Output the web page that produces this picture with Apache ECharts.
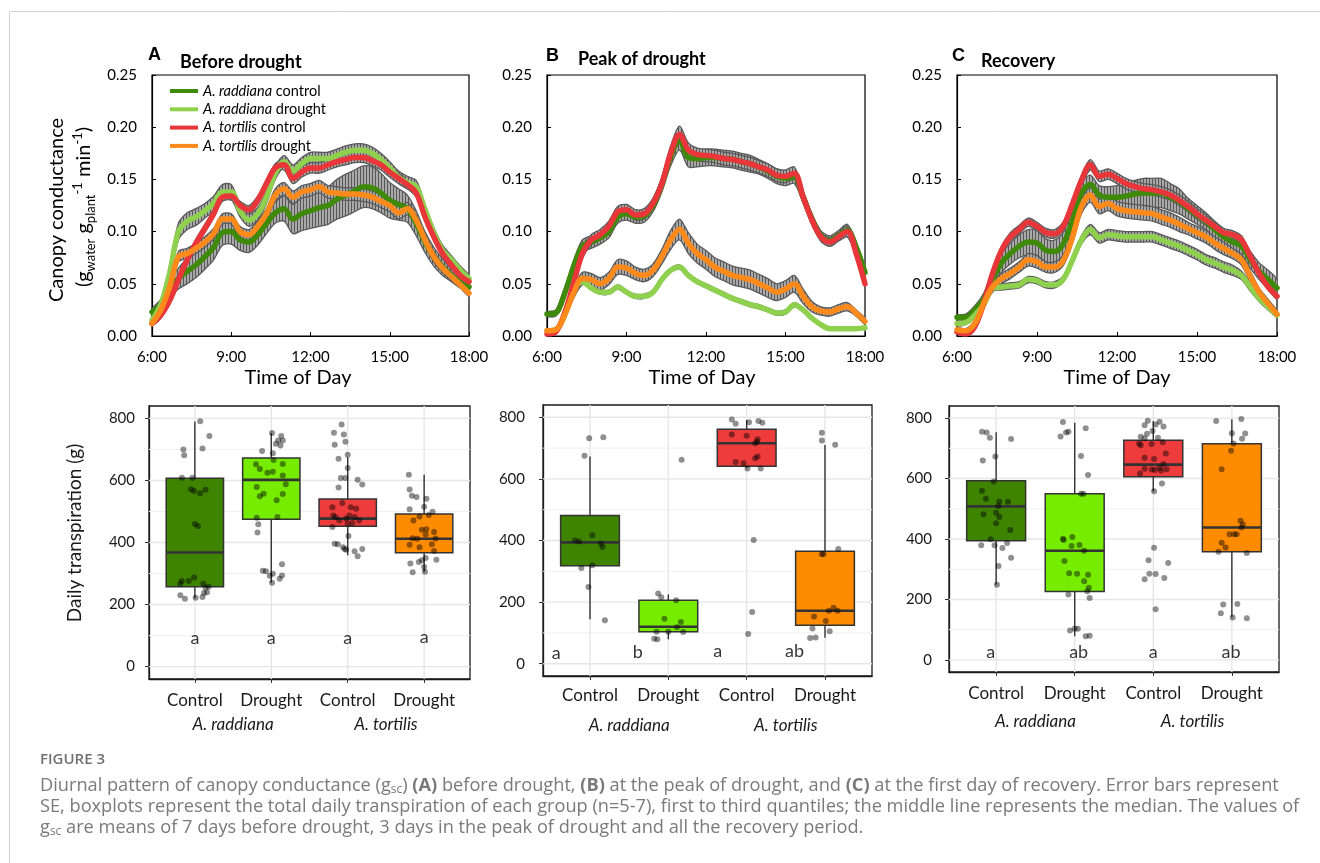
<!DOCTYPE html>
<html><head><meta charset="utf-8">
<script src="https://cdn.jsdelivr.net/npm/echarts@6/dist/echarts.min.js"></script>
<style>html,body{margin:0;padding:0;background:#fff}#c{width:1320px;height:863px}</style>
</head><body><div id="c"></div>
<script>
// ---------------- DATA: top panels (canopy conductance) ----------------
const timeLabels = ['6:00','6:20','6:40','7:00','7:20','7:40','8:00','8:20','8:40','9:00','9:20','9:40','10:00','10:20','10:40','11:00','11:20','11:40','12:00','12:20','12:40','13:00','13:20','13:40','14:00','14:20','14:40','15:00','15:20','15:40','16:00','16:20','16:40','17:00','17:20','17:40','18:00'];
const xTickHours = [6, 9, 12, 15, 18];
const seriesNames = ['A. raddiana control', 'A. raddiana drought', 'A. tortilis control', 'A. tortilis drought'];
const panelTitles = ['Before drought', 'Peak of drought', 'Recovery'];
const panelLetters = ['A', 'B', 'C'];

// Panel A - before drought
const A_rc = [0.023,0.030,0.045,0.055,0.062,0.068,0.076,0.085,0.099,0.100,0.092,0.090,0.097,0.108,0.118,0.122,0.112,0.117,0.120,0.123,0.125,0.131,0.135,0.139,0.143,0.142,0.137,0.130,0.126,0.122,0.108,0.090,0.076,0.066,0.058,0.051,0.047];
const A_rd = [0.015,0.030,0.060,0.100,0.110,0.114,0.120,0.127,0.138,0.138,0.120,0.111,0.117,0.133,0.156,0.167,0.158,0.165,0.170,0.170,0.170,0.173,0.176,0.178,0.178,0.175,0.169,0.161,0.152,0.147,0.143,0.121,0.099,0.082,0.073,0.063,0.055];
const A_tc = [0.012,0.020,0.034,0.054,0.073,0.089,0.103,0.117,0.133,0.134,0.125,0.121,0.130,0.146,0.161,0.164,0.151,0.157,0.161,0.161,0.164,0.167,0.169,0.171,0.171,0.168,0.164,0.157,0.151,0.145,0.137,0.114,0.095,0.079,0.068,0.058,0.052];
const A_td = [0.012,0.025,0.047,0.076,0.079,0.084,0.090,0.098,0.112,0.112,0.100,0.097,0.105,0.117,0.135,0.141,0.133,0.138,0.140,0.143,0.138,0.137,0.136,0.136,0.135,0.133,0.129,0.125,0.118,0.122,0.111,0.092,0.076,0.065,0.057,0.049,0.041];
const A_rc_se = [0.003,0.005,0.008,0.010,0.012,0.012,0.012,0.012,0.012,0.012,0.010,0.010,0.010,0.010,0.010,0.012,0.014,0.016,0.017,0.018,0.018,0.019,0.020,0.020,0.020,0.020,0.019,0.017,0.015,0.013,0.012,0.010,0.009,0.008,0.006,0.005,0.004];
const A_rd_se = [0.003,0.005,0.007,0.008,0.008,0.008,0.007,0.007,0.007,0.007,0.006,0.006,0.006,0.006,0.006,0.006,0.006,0.006,0.006,0.006,0.006,0.006,0.006,0.006,0.006,0.006,0.006,0.006,0.006,0.006,0.006,0.005,0.005,0.005,0.004,0.004,0.003];
const A_tc_se = [0.002,0.003,0.004,0.004,0.004,0.004,0.004,0.004,0.004,0.004,0.004,0.004,0.004,0.004,0.004,0.005,0.005,0.005,0.005,0.005,0.005,0.005,0.005,0.005,0.005,0.005,0.005,0.005,0.005,0.004,0.004,0.004,0.003,0.003,0.003,0.003,0.002];
const A_td_se = [0.002,0.003,0.004,0.005,0.005,0.005,0.005,0.005,0.005,0.005,0.005,0.005,0.005,0.005,0.006,0.006,0.006,0.006,0.006,0.006,0.006,0.006,0.006,0.006,0.006,0.006,0.006,0.006,0.006,0.006,0.005,0.005,0.005,0.004,0.004,0.003,0.003];

// Panel B - peak of drought
const B_rc = [0.021,0.022,0.041,0.066,0.086,0.090,0.094,0.100,0.114,0.117,0.114,0.115,0.125,0.145,0.172,0.188,0.171,0.170,0.171,0.171,0.170,0.169,0.167,0.165,0.162,0.158,0.153,0.151,0.153,0.133,0.112,0.096,0.091,0.096,0.101,0.085,0.061];
const B_rd = [0.005,0.006,0.020,0.045,0.052,0.046,0.042,0.042,0.047,0.042,0.038,0.038,0.042,0.054,0.063,0.066,0.058,0.052,0.048,0.044,0.040,0.036,0.033,0.030,0.028,0.025,0.022,0.023,0.030,0.025,0.017,0.011,0.007,0.007,0.007,0.007,0.008];
const B_tc = [0.002,0.004,0.022,0.050,0.079,0.092,0.097,0.105,0.119,0.121,0.116,0.117,0.127,0.146,0.175,0.193,0.178,0.174,0.173,0.172,0.170,0.169,0.167,0.165,0.162,0.159,0.154,0.153,0.156,0.133,0.111,0.095,0.090,0.095,0.100,0.079,0.050];
const B_td = [0.005,0.006,0.020,0.041,0.055,0.054,0.050,0.055,0.066,0.065,0.060,0.058,0.063,0.076,0.092,0.102,0.089,0.079,0.073,0.066,0.062,0.058,0.056,0.054,0.050,0.046,0.042,0.045,0.050,0.038,0.028,0.024,0.023,0.026,0.028,0.022,0.014];
const B_rc_se = [0.002,0.003,0.005,0.006,0.006,0.006,0.006,0.006,0.006,0.006,0.006,0.006,0.006,0.007,0.009,0.010,0.009,0.008,0.008,0.008,0.008,0.008,0.008,0.008,0.007,0.007,0.007,0.007,0.007,0.006,0.005,0.005,0.005,0.005,0.006,0.005,0.004];
const B_rd_se = [0.001,0.001,0.002,0.002,0.002,0.002,0.002,0.002,0.002,0.002,0.002,0.002,0.002,0.002,0.002,0.002,0.002,0.002,0.002,0.002,0.002,0.002,0.002,0.002,0.002,0.002,0.002,0.002,0.002,0.002,0.002,0.001,0.001,0.001,0.001,0.001,0.001];
const B_tc_se = [0.002,0.002,0.004,0.005,0.005,0.005,0.005,0.005,0.005,0.005,0.005,0.005,0.005,0.006,0.007,0.008,0.007,0.006,0.006,0.006,0.006,0.006,0.006,0.006,0.006,0.006,0.006,0.006,0.006,0.005,0.005,0.004,0.004,0.004,0.005,0.004,0.003];
const B_td_se = [0.001,0.002,0.003,0.005,0.006,0.006,0.006,0.006,0.007,0.007,0.006,0.006,0.006,0.007,0.009,0.010,0.010,0.009,0.009,0.009,0.009,0.009,0.009,0.009,0.009,0.009,0.008,0.008,0.008,0.007,0.005,0.004,0.004,0.004,0.004,0.003,0.003];

// Panel C - recovery
const C_rc = [0.018,0.018,0.025,0.035,0.054,0.070,0.079,0.086,0.090,0.089,0.082,0.081,0.089,0.111,0.137,0.145,0.135,0.133,0.133,0.134,0.136,0.137,0.137,0.137,0.133,0.129,0.122,0.116,0.110,0.102,0.095,0.090,0.086,0.073,0.062,0.054,0.046];
const C_rd = [0.012,0.013,0.020,0.030,0.046,0.047,0.048,0.049,0.054,0.053,0.049,0.049,0.055,0.073,0.092,0.102,0.094,0.097,0.096,0.095,0.095,0.095,0.095,0.092,0.089,0.086,0.082,0.078,0.073,0.070,0.066,0.063,0.058,0.047,0.036,0.028,0.020];
const C_tc = [0.004,0.002,0.009,0.031,0.060,0.082,0.095,0.102,0.109,0.105,0.099,0.098,0.106,0.127,0.149,0.164,0.153,0.155,0.151,0.146,0.143,0.141,0.140,0.138,0.135,0.130,0.124,0.117,0.111,0.105,0.099,0.097,0.092,0.076,0.060,0.047,0.038];
const C_td = [0.006,0.005,0.012,0.031,0.047,0.055,0.060,0.066,0.073,0.071,0.066,0.066,0.073,0.095,0.124,0.135,0.124,0.127,0.122,0.120,0.119,0.118,0.117,0.114,0.111,0.107,0.103,0.099,0.095,0.089,0.084,0.079,0.073,0.057,0.042,0.031,0.021];
const C_rc_se = [0.002,0.003,0.004,0.006,0.008,0.009,0.010,0.011,0.012,0.012,0.011,0.011,0.011,0.010,0.010,0.009,0.009,0.010,0.011,0.012,0.013,0.014,0.014,0.014,0.013,0.012,0.010,0.009,0.008,0.008,0.008,0.008,0.008,0.008,0.008,0.009,0.008];
const C_rd_se = [0.002,0.002,0.003,0.003,0.003,0.003,0.003,0.003,0.003,0.003,0.003,0.003,0.003,0.004,0.004,0.005,0.005,0.005,0.005,0.005,0.005,0.005,0.005,0.005,0.005,0.005,0.005,0.005,0.005,0.005,0.005,0.005,0.004,0.004,0.003,0.003,0.002];
const C_tc_se = [0.002,0.002,0.003,0.004,0.004,0.004,0.004,0.004,0.004,0.004,0.004,0.004,0.004,0.004,0.005,0.005,0.005,0.005,0.005,0.005,0.005,0.005,0.005,0.005,0.005,0.005,0.005,0.005,0.005,0.004,0.004,0.004,0.004,0.004,0.004,0.003,0.003];
const C_td_se = [0.002,0.002,0.003,0.004,0.005,0.005,0.005,0.005,0.006,0.006,0.005,0.005,0.005,0.006,0.007,0.007,0.007,0.007,0.007,0.007,0.007,0.007,0.007,0.007,0.007,0.007,0.006,0.006,0.006,0.006,0.006,0.005,0.005,0.005,0.004,0.004,0.003];

// ---------------- DATA: bottom panels (daily transpiration, g) ----------------
const groupLabels = ['Control', 'Drought', 'Control', 'Drought'];
const speciesLabels = ['A. raddiana', 'A. tortilis'];
const yTicksBottom = [0, 200, 400, 600, 800];
const yMinorBottom = [100, 300, 500, 700];
// box stats: [lower whisker, Q1, median, Q3, upper whisker]
const boxD = [[220,257,368,607,790],[270,475,602,672,753],[359,452,477,540,675],[305,367,412,492,618]];
const boxE = [[144,318,394,481,673],[79,104,120,206,225],[635,641,716,761,791],[84,125,172,365,710]];
const boxF = [[249,394,508,593,753],[78,226,361,550,785],[557,606,646,727,790],[141,358,438,715,796]];
// individual observations: [jitter, value]
const pointsD = [
 [[0.07,791],[0.19,743],[-0.15,700],[0.10,703],[-0.14,681],[-0.17,609],[-0.03,609],[-0.05,572],[-0.01,566],[0.07,559],[0.14,570],[0.0,460],[0.04,453],[-0.01,287],[-0.17,276],[-0.08,276],[0.11,267],[-0.19,267],[0.14,254],[0.18,257],[-0.19,230],[-0.13,219],[0.01,222],[0.10,224],[0.16,240],[0.12,237]],
 [[0.01,753],[0.13,743],[0.09,729],[0.15,729],[0.06,718],[0.12,713],[-0.12,695],[0.02,688],[-0.20,652],[0.03,666],[0.15,653],[-0.15,637],[-0.05,625],[0.02,628],[0.15,616],[0.19,588],[-0.19,579],[-0.15,549],[-0.10,557],[0.15,556],[0.07,536],[-0.19,480],[0.08,482],[-0.17,459],[-0.18,432],[-0.11,309],[-0.07,307],[0.02,299],[0.14,330],[0.14,294],[0.11,283],[0.01,270],[-0.02,293]],
 [[-0.08,780],[-0.18,754],[-0.05,748],[-0.17,715],[-0.03,725],[-0.12,670],[0.0,683],[0.0,640],[-0.09,608],[-0.03,608],[0.13,602],[0.19,587],[-0.12,577],[-0.07,527],[-0.20,514],[0.04,514],[0.11,509],[-0.19,487],[-0.16,482],[-0.11,471],[-0.02,477],[0.02,487],[0.09,482],[0.15,471],[-0.20,450],[0.0,461],[0.06,463],[0.01,421],[-0.17,396],[-0.13,394],[-0.06,385],[-0.02,377],[-0.04,379],[0.09,372],[0.19,379],[0.13,356]],
 [[-0.20,618],[-0.19,571],[-0.16,551],[-0.10,547],[0.03,541],[-0.19,507],[0.0,515],[0.11,499],[-0.06,484],[0.06,489],[-0.14,471],[-0.03,441],[0.03,443],[0.13,434],[0.02,426],[-0.15,414],[-0.09,412],[0.15,413],[-0.19,393],[-0.06,385],[0.10,394],[0.13,373],[0.02,350],[-0.18,332],[-0.07,337],[-0.03,343],[0.16,344],[0.0,321],[-0.15,304],[0.01,306]]
];
const pointsE = [
 [[-0.01,732],[0.17,735],[-0.07,675],[-0.19,400],[-0.14,397],[0.03,417],[0.14,390],[0.16,379],[-0.11,311],[0.03,320],[-0.02,249],[0.19,141]],
 [[0.17,662],[-0.13,228],[-0.09,216],[0.10,206],[-0.05,146],[0.16,135],[0.11,118],[-0.15,104],[0.0,104],[0.19,103],[-0.18,81],[-0.14,79]],
 [[-0.19,793],[-0.14,779],[0.03,784],[0.15,788],[0.20,782],[-0.19,744],[0.0,740],[0.14,729],[0.13,721],[0.11,716],[0.14,673],[0.11,667],[-0.14,655],[-0.04,651],[0.01,634],[0.18,634],[0.09,402],[0.07,168],[0.02,96]],
 [[-0.04,750],[-0.04,725],[0.13,711],[0.17,372],[-0.04,355],[-0.02,356],[0.11,182],[0.05,172],[0.16,172],[-0.14,153],[0.01,139],[-0.16,114],[0.06,105],[-0.19,83],[-0.12,85]]
];
const pointsF = [
 [[-0.18,755],[-0.12,752],[-0.08,735],[0.19,731],[-0.17,660],[-0.01,673],[-0.03,590],[-0.18,560],[-0.13,533],[0.04,524],[0.15,523],[0.03,509],[-0.16,482],[0.0,487],[0.04,473],[0.0,452],[0.18,430],[-0.07,399],[-0.19,379],[-0.02,379],[0.08,370],[0.14,387],[0.03,311],[0.19,338],[0.01,249]],
 [[-0.15,787],[-0.18,739],[-0.11,752],[-0.08,755],[0.14,766],[0.08,675],[0.17,612],[0.08,550],[0.11,550],[-0.15,401],[-0.14,397],[-0.03,407],[-0.04,377],[0.06,380],[0.12,361],[-0.13,327],[-0.07,287],[0.03,285],[0.17,282],[0.12,260],[0.18,239],[0.16,227],[-0.08,216],[0.19,205],[-0.06,97],[0.0,103],[0.04,103],[0.14,78],[0.19,80]],
 [[-0.07,791],[0.08,788],[0.03,779],[-0.11,776],[0.13,772],[-0.01,757],[-0.08,748],[-0.16,738],[0.06,735],[-0.11,733],[-0.18,716],[-0.02,714],[0.12,720],[-0.16,710],[-0.11,669],[0.01,665],[0.16,683],[0.13,648],[-0.02,630],[-0.11,632],[-0.17,617],[0.08,636],[0.17,631],[0.10,627],[0.02,628],[0.11,584],[0.01,558],[0.01,371],[-0.06,330],[0.19,321],[-0.05,285],[0.03,284],[-0.11,267],[0.14,271],[0.03,168]],
 [[-0.20,790],[0.12,797],[0.0,750],[0.17,749],[0.13,732],[0.02,716],[-0.01,692],[-0.13,631],[0.11,460],[0.14,448],[0.12,438],[-0.03,416],[0.03,416],[0.06,416],[-0.13,388],[-0.08,372],[-0.17,358],[0.19,354],[-0.11,183],[0.07,185],[-0.14,154],[0.01,140],[0.19,138]]
];
// significance letters: text, x (category index + shift), y (g)
const lettersD = ['a','a','a','a'];  const letterXD = [0, 1, 2, 3];                  const letterYD = [90, 90, 90, 96];
const lettersE = ['a','b','a','ab']; const letterXE = [-0.43, 0.61, 1.63, 2.61];     const letterYE = [34, 36, 40, 42];
const lettersF = ['a','ab','a','ab']; const letterXF = [-0.07, 1.05, 2.0, 2.99];     const letterYF = [24, 24, 24, 24];

// ---------------- styling ----------------
const lineColors = ['#3f8a0a', '#8fd14f', '#e8363a', '#ff8a1c'];
const boxColors = ['#3e8400', '#76ec00', '#ee3b3b', '#ff8c00'];
const FONT = 'Lato';

const hours = timeLabels.map(s => { const p = s.split(':').map(Number); return p[0] + p[1] / 60; });
const topPanels = [
  { means: [A_rc, A_rd, A_tc, A_td], ses: [A_rc_se, A_rd_se, A_tc_se, A_td_se] },
  { means: [B_rc, B_rd, B_tc, B_td], ses: [B_rc_se, B_rd_se, B_tc_se, B_td_se] },
  { means: [C_rc, C_rd, C_tc, C_td], ses: [C_rc_se, C_rd_se, C_tc_se, C_td_se] }
];
const botPanels = [
  { box: boxD, pts: pointsD, letters: lettersD, lx: letterXD, ly: letterYD },
  { box: boxE, pts: pointsE, letters: lettersE, lx: letterXE, ly: letterYE },
  { box: boxF, pts: pointsF, letters: lettersF, lx: letterXF, ly: letterYF }
];

// hatch pattern for SE error bars
const pc = document.createElement('canvas'); pc.width = 3; pc.height = 4;
const pg = pc.getContext('2d');
pg.fillStyle = '#a9a9a9'; pg.fillRect(0, 0, 3, 4);
pg.fillStyle = '#575757'; pg.fillRect(0, 0, 1, 4);
const hatch = { image: pc, repeat: 'repeat' };

const topGrids = [
  { left: 152, top: 75, width: 317, height: 261 },
  { left: 547, top: 75, width: 318, height: 261 },
  { left: 957, top: 75, width: 320, height: 261 }
];
const botGrids = [
  { left: 149, top: 406, width: 321, height: 273 },
  { left: 543, top: 405, width: 329, height: 271 },
  { left: 949, top: 406, width: 330, height: 266 }
];
const botLabelMargin = [13, 11, 13];
const botSpeciesMargin = [37, 41, 41];
const botYMargin = [14, 18, 17];

const grid = [], xAxis = [], yAxis = [], series = [];
topGrids.forEach((g, p) => {
  grid.push(Object.assign({ show: true, borderColor: '#000', borderWidth: 1.2, backgroundColor: 'transparent' }, g));
  xAxis.push({
    type: 'value', gridIndex: p, min: 6, max: 18, interval: 3,
    axisLine: { onZero: false, lineStyle: { color: '#000', width: 1.2 } },
    axisTick: { inside: true, length: 4, lineStyle: { color: '#000' } },
    axisLabel: { margin: 14, fontSize: 15, fontFamily: FONT, color: '#000', formatter: v => v + ':00', showMinLabel: true, showMaxLabel: true },
    splitLine: { show: false }
  });
  yAxis.push({
    type: 'value', gridIndex: p, min: 0, max: 0.25, interval: 0.05,
    axisLine: { show: true, onZero: false, lineStyle: { color: '#000', width: 1.2 } },
    axisTick: { show: true, inside: true, length: 4, lineStyle: { color: '#000' } },
    axisLabel: { margin: 15, fontSize: 15, fontFamily: FONT, color: '#000', formatter: v => v.toFixed(2) },
    splitLine: { show: false }
  });
});
botGrids.forEach((g, p) => {
  grid.push(Object.assign({ show: true, borderColor: '#1a1a1a', borderWidth: 1.3, backgroundColor: 'transparent' }, g));
  xAxis.push({
    type: 'value', gridIndex: 3 + p, min: -0.6, max: 3.6,
    axisLine: { show: true, onZero: false, lineStyle: { color: '#1a1a1a', width: 1.3 } },
    axisTick: { show: true, length: 4, customValues: [0, 1, 2, 3], lineStyle: { color: '#333' } },
    axisLabel: { margin: botLabelMargin[p], fontSize: 17, fontFamily: FONT, color: '#1a1a1a', customValues: [0, 1, 2, 3], formatter: v => groupLabels[Math.round(v)] },
    splitLine: { show: false }
  });
  yAxis.push({
    type: 'value', gridIndex: 3 + p, min: -40, max: 840,
    axisLine: { show: true, onZero: false, lineStyle: { color: '#1a1a1a', width: 1.3 } },
    axisTick: { show: true, length: 4, customValues: yTicksBottom, lineStyle: { color: '#333' } },
    axisLabel: { margin: botYMargin[p], fontSize: 15, fontFamily: FONT, color: '#1a1a1a', customValues: yTicksBottom, formatter: v => String(v) },
    splitLine: { show: false }
  });
});
botGrids.forEach((g, p) => {
  xAxis.push({
    type: 'value', gridIndex: 3 + p, min: -0.6, max: 3.6, position: 'bottom', offset: 0,
    axisLine: { show: false, onZero: false }, axisTick: { show: false }, splitLine: { show: false },
    axisLabel: { margin: botSpeciesMargin[p], fontSize: 17, fontStyle: 'italic', fontFamily: FONT, color: '#1a1a1a', customValues: [0.5, 2.5], formatter: v => speciesLabels[v < 1.5 ? 0 : 1] }
  });
});

// top series: SE bands, then lines
topPanels.forEach((tp, p) => {
  tp.means.forEach((m, s) => {
    const se = tp.ses[s];
    series.push({
      type: 'custom', xAxisIndex: p, yAxisIndex: p, z: 2, silent: true, clip: true,
      data: [[hours[0], m[0]]],
      renderItem: (params, api) => {
        const up = [], lo = [];
        for (let i = 0; i < hours.length; i++) {
          up.push(api.coord([hours[i], m[i] + se[i]]));
          lo.push(api.coord([hours[i], m[i] - se[i]]));
        }
        return { type: 'polygon', shape: { points: up.concat(lo.reverse()), smooth: 0.3 },
                 style: { fill: hatch, stroke: '#5a5a5a', lineWidth: 1.3 } };
      }
    });
  });
});
topPanels.forEach((tp, p) => {
  tp.means.forEach((m, s) => {
    series.push({
      type: 'line', name: seriesNames[s], xAxisIndex: p, yAxisIndex: p, z: 3,
      data: hours.map((h, i) => [h, m[i]]), smooth: 0.35, showSymbol: false, symbol: 'none',
      lineStyle: { color: lineColors[s], width: 5.5, cap: 'round', join: 'round' },
      itemStyle: { color: lineColors[s] }
    });
  });
});

// bottom series
botPanels.forEach((bp, p) => {
  const ax = 3 + p;
  // gridlines (ggplot style)
  series.push({
    type: 'custom', xAxisIndex: ax, yAxisIndex: ax, z: 1, silent: true, clip: true,
    data: [[0, 0]],
    renderItem: (params, api) => {
      const cs = params.coordSys; const ch = [];
      yMinorBottom.forEach(v => { const y = api.coord([0, v])[1]; ch.push({ type: 'line', shape: { x1: cs.x, y1: y, x2: cs.x + cs.width, y2: y }, style: { stroke: '#f0f0f0', lineWidth: 1 } }); });
      yTicksBottom.forEach(v => { const y = api.coord([0, v])[1]; ch.push({ type: 'line', shape: { x1: cs.x, y1: y, x2: cs.x + cs.width, y2: y }, style: { stroke: '#e6e6e6', lineWidth: 1.4 } }); });
      [0, 1, 2, 3].forEach(v => { const x = api.coord([v, 0])[0]; ch.push({ type: 'line', shape: { x1: x, y1: cs.y, x2: x, y2: cs.y + cs.height }, style: { stroke: '#e6e6e6', lineWidth: 1.4 } }); });
      return { type: 'group', children: ch };
    }
  });
  series.push({
    type: 'custom', xAxisIndex: ax, yAxisIndex: ax, z: 2, silent: true, clip: true,
    encode: { x: 0, y: [1, 2, 3, 4, 5] },
    data: bp.box.map((b, i) => [i].concat(b)),
    renderItem: (params, api) => {
      const x = api.value(0);
      const pMin = api.coord([x, api.value(1)]), pQ1 = api.coord([x, api.value(2)]), pMed = api.coord([x, api.value(3)]);
      const pQ3 = api.coord([x, api.value(4)]), pMax = api.coord([x, api.value(5)]);
      const w = api.size([0.75, 0])[0];
      const cx = pMed[0];
      return { type: 'group', children: [
        { type: 'line', shape: { x1: cx, y1: pMin[1], x2: cx, y2: pMax[1] }, style: { stroke: '#333', lineWidth: 1.4 } },
        { type: 'rect', shape: { x: cx - w / 2, y: pQ3[1], width: w, height: pQ1[1] - pQ3[1] }, style: { fill: boxColors[params.dataIndex], stroke: '#333', lineWidth: 1.5 } },
        { type: 'line', shape: { x1: cx - w / 2, y1: pMed[1], x2: cx + w / 2, y2: pMed[1] }, style: { stroke: '#333', lineWidth: 2.6 } }
      ] };
    }
  });
  const pts = [];
  bp.pts.forEach((g, i) => g.forEach(d => pts.push([i + d[0], d[1]])));
  series.push({
    type: 'scatter', xAxisIndex: ax, yAxisIndex: ax, z: 3, silent: true,
    data: pts, symbolSize: 6, itemStyle: { color: 'rgba(0,0,0,0.55)' }
  });
  series.push({
    type: 'scatter', xAxisIndex: ax, yAxisIndex: ax, z: 4, silent: true, symbolSize: 0,
    data: bp.letters.map((t, i) => [bp.lx[i], bp.ly[i], t]),
    label: { show: true, position: 'inside', formatter: q => q.data[2], fontSize: 18, fontFamily: FONT, color: '#000' }
  });
});

// ---------------- texts ----------------
const graphic = [
  { type: 'line', shape: { x1: 9.5, y1: 11.5, x2: 1320, y2: 11.5 }, style: { stroke: '#d2d2d2', lineWidth: 1 } },
  { type: 'line', shape: { x1: 9.5, y1: 11.5, x2: 9.5, y2: 863 }, style: { stroke: '#d2d2d2', lineWidth: 1 } }
];
const letterPos = [[148, 55], [546, 56], [952, 56]];
const titlePos = [[180, 62], [578, 59], [981, 61]];
panelLetters.forEach((L, p) => {
  graphic.push({ type: 'text', x: letterPos[p][0], y: letterPos[p][1], style: { text: L, font: 'bold 18px "Liberation Sans", Arial', fill: '#000', verticalAlign: 'middle' } });
  graphic.push({ type: 'text', x: titlePos[p][0], y: titlePos[p][1], style: { text: panelTitles[p], font: 'bold 18px ' + FONT, fill: '#000', verticalAlign: 'middle' } });
});
const todX = [298, 702, 1117];
todX.forEach(x => graphic.push({ type: 'text', x: x, y: 378, style: { text: 'Time of Day', font: '20px ' + FONT, fill: '#000', align: 'center', verticalAlign: 'middle' } }));
graphic.push({ type: 'text', x: 57, y: 210, rotation: Math.PI / 2, style: { text: 'Canopy conductance', font: '20px ' + FONT, fill: '#000', align: 'center', verticalAlign: 'middle' } });
graphic.push({ type: 'text', x: 84, y: 207, rotation: Math.PI / 2, style: {
  text: '{n|(g}{sub|water}{n| g}{sub|plant}{sup|-1}{n| min}{sup|-1}{n|)}', align: 'center', verticalAlign: 'middle',
  rich: {
    n: { fontSize: 20, fontFamily: FONT, fill: '#000', lineHeight: 26, verticalAlign: 'middle' },
    sub: { fontSize: 13, fontFamily: FONT, fill: '#000', lineHeight: 13, verticalAlign: 'bottom' },
    sup: { fontSize: 13, fontFamily: FONT, fill: '#000', lineHeight: 13, verticalAlign: 'top' }
  } } });
graphic.push({ type: 'text', x: 75, y: 533, rotation: Math.PI / 2, style: { text: 'Daily transpiration (g)', font: '19px ' + FONT, fill: '#1a1a1a', align: 'center', verticalAlign: 'middle' } });

// caption
const capRich = {
  n: { fontSize: 18.2, fontFamily: 'Open Sans', fill: '#7a7a7a', lineHeight: 20, verticalAlign: 'middle' },
  b: { fontSize: 18.2, fontFamily: 'Open Sans', fontWeight: 'bold', fill: '#7a7a7a', lineHeight: 20, verticalAlign: 'middle' },
  s: { fontSize: 12, fontFamily: 'Open Sans', fill: '#7a7a7a', lineHeight: 12, verticalAlign: 'bottom' }
};
graphic.push({ type: 'text', x: 40, y: 760, style: { text: 'FIGURE 3', font: '600 15px "Open Sans"', fill: '#707070', verticalAlign: 'middle' } });
const captionLines = [
  '{n|Diurnal pattern of canopy conductance (g}{s|sc}{n|) }{b|(A)}{n| before drought, }{b|(B)}{n| at the peak of drought, and }{b|(C)}{n| at the first day of recovery. Error bars represent}',
  '{n|SE, boxplots represent the total daily transpiration of each group (n=5-7), first to third quantiles; the middle line represents the median. The values of}',
  '{n|g}{s|sc}{n| are means of 7 days before drought, 3 days in the peak of drought and all the recovery period.}'
];
const captionY = [786, 807, 828];
captionLines.forEach((t, i) => graphic.push({ type: 'text', x: 40, y: captionY[i], style: { text: t, rich: capRich, verticalAlign: 'middle' } }));

const chart = echarts.init(document.getElementById('c'), null, { renderer: 'canvas' });
chart.setOption({
  animation: false,
  backgroundColor: '#fff',
  grid, xAxis, yAxis, series, graphic,
  legend: {
    data: seriesNames, orient: 'vertical', left: 165, top: 78, itemWidth: 28, itemHeight: 4, itemGap: 2.3,
    icon: 'rect', selectedMode: false,
    formatter: name => { const k = name.lastIndexOf(' '); return '{i|' + name.slice(0, k) + '} ' + name.slice(k + 1); },
    textStyle: { fontSize: 14.5, fontFamily: FONT, color: '#000', lineHeight: 16, rich: { i: { fontStyle: 'italic', fontSize: 14.5, fontFamily: FONT, color: '#000' } } }
  }
});
</script></body></html>
